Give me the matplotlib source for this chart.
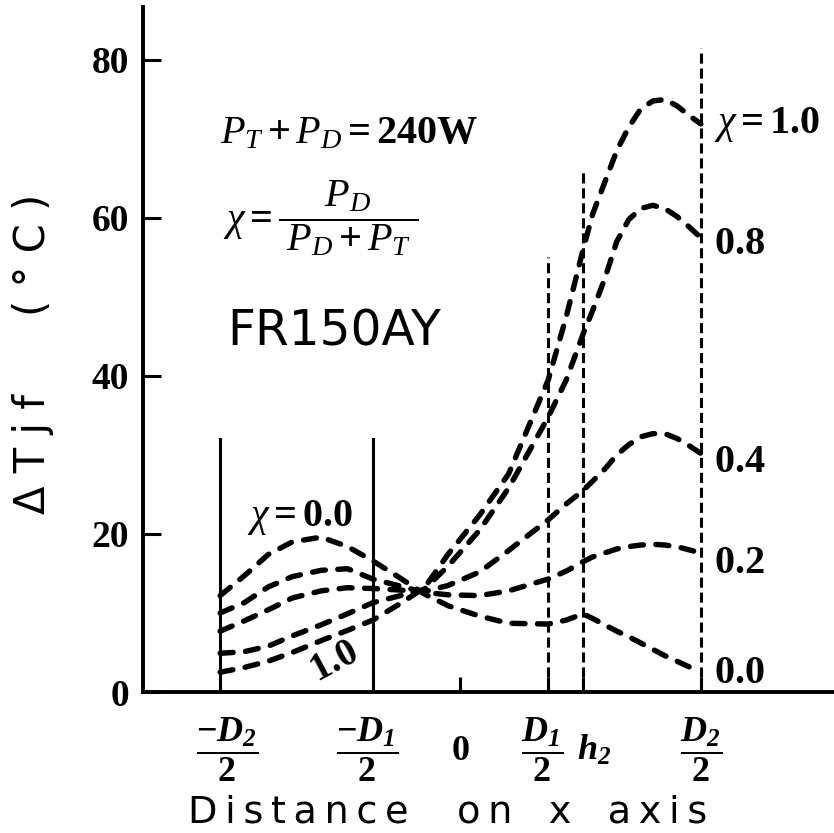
import matplotlib
matplotlib.use("Agg")
import matplotlib.pyplot as plt

# mathtext in a bold serif, like the scanned figure
plt.rcParams["mathtext.fontset"] = "custom"
plt.rcParams["mathtext.rm"] = "Liberation Serif:bold"
plt.rcParams["mathtext.bf"] = "Liberation Serif:bold"
plt.rcParams["mathtext.it"] = "Liberation Serif:italic"
plt.rcParams["mathtext.bfit"] = "Liberation Serif:italic:bold"

# positions on x axis (D2/2 = 1)
d2_half = 1.0
d1_half = 0.365
h2 = 0.51

# distance grid and temperature rise for each chi
x_pos = [-1.0, -0.9, -0.8, -0.7, -0.58, -0.47, -0.365, -0.25, -0.15, -0.05,
         0.08, 0.2, 0.365, 0.44, 0.51, 0.55, 0.6, 0.65, 0.7, 0.75, 0.8,
         0.85, 0.9, 0.95, 1.0]
dt_chi00 = [12.2, 14.7, 17.4, 19.0, 19.6, 18.4, 16.6, 14.4, 12.4, 10.9,
            9.6, 8.7, 8.6, 9.1, 9.9, 9.3, 8.5, 7.7, 7.0, 6.2, 5.4,
            4.6, 3.9, 3.2, 2.7]
dt_chi02 = [10.0, 11.3, 13.3, 14.6, 15.4, 15.6, 14.3, 13.4, 12.6, 12.3,
            12.2, 12.8, 14.3, 15.3, 16.5, 17.1, 17.6, 18.1, 18.4, 18.6, 18.7,
            18.6, 18.4, 18.0, 17.6]
dt_chi04 = [7.7, 9.0, 10.4, 11.9, 12.8, 13.2, 13.1, 12.9, 12.7, 13.5,
            15.2, 17.9, 21.8, 23.8, 25.5, 26.7, 28.2, 30.0, 31.3, 32.3, 32.7,
            32.7, 32.1, 31.2, 30.2]
dt_chi08 = [4.9, 5.1, 5.8, 7.1, 8.5, 9.9, 11.3, 12.2, 13.0, 16.0,
            20.5, 25.8, 34.8, 39.5, 45.3, 48.3, 52.3, 57.0, 59.8, 61.2, 61.6,
            61.2, 60.2, 58.9, 57.5]
dt_chi10 = [2.5, 3.1, 3.9, 5.0, 6.5, 7.8, 9.1, 11.2, 13.2, 17.5,
            22.4, 27.6, 39.5, 47.5, 56.0, 60.5, 64.5, 68.5, 71.5, 73.8, 74.8,
            75.0, 74.2, 73.0, 71.9]

right_labels = [r"$\chi = 1.0$", "$0.8$", "$0.4$", "$0.2$", "$0.0$"]
right_label_y = [71.9, 56.8, 29.2, 16.4, 2.5]

xtick_pos = [-d2_half, -d1_half, 0, d1_half, h2, d2_half]
ytick_pos = [0, 20, 40, 60, 80]

fig = plt.figure(figsize=(8.34, 8.33), dpi=100)
ax = fig.add_axes([143 / 834, 141 / 833, (834 - 143) / 834, 685 / 833])
ax.set_xlim(-1.321, 1.554)
ax.set_ylim(0, 86.7)

# curves
for dt in [dt_chi00, dt_chi02, dt_chi04, dt_chi08, dt_chi10]:
    ax.plot(x_pos, dt, color="black", lw=3.9, linestyle=(0, (2.4, 2.3)),
            dash_capstyle="round", solid_joinstyle="round")

# boundary lines
ax.plot([-d2_half, -d2_half], [0, 32], color="black", lw=2.2)
ax.plot([-d1_half, -d1_half], [0, 32], color="black", lw=2.2)
ax.plot([d1_half, d1_half], [0, 55], color="black", lw=2.2, linestyle=(0, (3.3, 1.6)))
ax.plot([h2, h2], [0, 65.8], color="black", lw=2.2, linestyle=(0, (3.3, 1.6)))
ax.plot([d2_half, d2_half], [0, 81.5], color="black", lw=2.2, linestyle=(0, (3.3, 1.6)))

# axes look
for side in ["top", "right"]:
    ax.spines[side].set_visible(False)
for side in ["left", "bottom"]:
    ax.spines[side].set_linewidth(2.8)
ax.set_xticks(xtick_pos)
ax.set_xticklabels([])
ax.set_yticks(ytick_pos)
ax.set_yticklabels([str(v) for v in ytick_pos], family="Liberation Serif",
                   fontweight="bold", fontsize=27)
ax.tick_params(axis="x", direction="in", length=11, width=2.2)
ax.tick_params(axis="y", direction="in", length=13, width=2.2, pad=10)

# x tick labels
xtick_text = [r"$\dfrac{-\mathbfit{D}_{\mathbfit{2}}}{2}$",
              r"$\dfrac{-\mathbfit{D}_{\mathbfit{1}}}{2}$",
              "$0$",
              r"$\dfrac{\mathbfit{D}_{\mathbfit{1}}}{2}$",
              r"$\mathbfit{h}_{\mathbfit{2}}$",
              r"$\dfrac{\mathbfit{D}_{\mathbfit{2}}}{2}$"]
xtick_text_x = [-0.97, -0.39, 0.0, 0.34, 0.555, 1.0]
for xt, s in zip(xtick_text_x, xtick_text):
    ax.text(xt, -0.085, s, transform=ax.get_xaxis_transform(), ha="center",
            va="center", fontsize=26)

# curve labels
for s, yv in zip(right_labels, right_label_y):
    ax.text(1.055, yv, s, ha="left", va="center", fontsize=29)
ax.text(-0.89, 22.2, r"$\chi = 0.0$", ha="left", va="center", fontsize=29)
ax.text(-0.53, 3.9, "$1.0$", ha="center", va="center", fontsize=28, rotation=28)

# notes
ax.text(-1.0, 70.9, r"$P_T + P_D = 240\mathrm{W}$", ha="left", va="center",
        fontsize=29)
ax.text(-0.99, 60.0, r"$\chi = \dfrac{P_D}{\;P_D + P_T\;}$", ha="left", va="center",
        fontsize=29)
ax.text(-0.97, 45.6, "FR150AY", ha="left", va="center", fontsize=35,
        family="DejaVu Sans")

# axis titles
fig.text(0.537, 0.013, "D\u2009i\u2009s\u2009t\u2009a\u2009n\u2009c\u2009e    o\u2009n   x   a\u2009x\u2009i\u2009s",
         ha="center", va="baseline", fontsize=27.5, family="DejaVu Sans")
fig.text(0.04, 0.694, "( \u00b0 C )", rotation=90, ha="center", va="center",
         fontsize=30, family="DejaVu Sans")
fig.text(0.04, 0.455, "\u0394 T j f", rotation=90, ha="center", va="center",
         fontsize=30, family="DejaVu Sans")

plt.savefig("out.png", dpi=100)
